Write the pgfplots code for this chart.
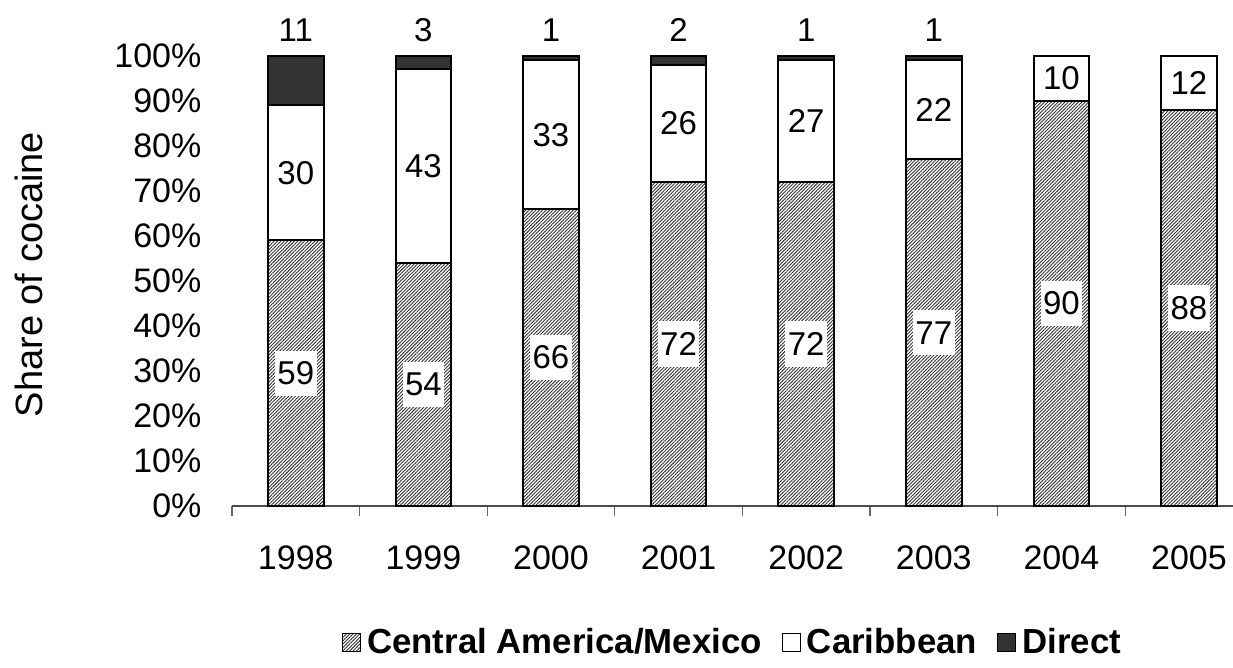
\documentclass[border=0pt]{standalone}
\usepackage{fontspec}
\setmainfont{Liberation Sans}
\usepackage{pgfplots}
\pgfplotsset{compat=1.18}
\usetikzlibrary{patterns.meta}
\begin{document}
\begin{tikzpicture}
\useasboundingbox (-116pt,-81pt) rectangle (500.5pt,253pt);
\begin{axis}[
  scale only axis, width=500.5pt, height=225pt,
  xmin=-0.5, xmax=7.345, ymin=0, ymax=100,
  clip=false,
  ybar stacked, bar width=0.436,
  axis x line*=bottom, axis y line*=left,
  y axis line style={draw=none},
  x axis line style={draw=black!70, line width=0.6pt},
  xtick={0,1,2,3,4,5,6,7},
  xticklabels={1998,1999,2000,2001,2002,2003,2004,2005},
  major x tick style={draw=none},
  minor xtick={-0.5,0.5,1.5,2.5,3.5,4.5,5.5,6.5},
  minor x tick style={draw=black!60, line width=0.6pt},
  minor tick length=5pt,
  tick align=outside,
  ytick={0,10,...,100},
  major y tick style={draw=none},
  yticklabel={\pgfmathprintnumber{\tick}\%},
  /pgf/number format/assume math mode=true,
  tick label style={font=\fontsize{17}{20}\selectfont},
  xticklabel shift=12pt,
  yticklabel shift=7.5pt,
  ylabel={Share of cocaine},
  ylabel style={font=\fontsize{19}{22}\selectfont, at={(axis description cs:0,0.5)}, anchor=center, yshift=101.5pt, xshift=3.25pt},
  legend style={at={(0.5,-0.304)}, anchor=center, draw=none, legend columns=-1,
    font=\fontsize{17.4}{20}\selectfont\bfseries,
    nodes={inner sep=1pt},
    /tikz/every odd column/.append style={column sep=2pt},
    /tikz/every even column/.append style={column sep=9pt}, inner sep=0pt},
  legend image code/.code={\draw[#1, line width=0.6pt] (0pt,-4.5pt) rectangle (9pt,4.5pt);},
  nodes near coords style={anchor=center, yshift=\myshift, fill=\myfill,
     inner xsep=1.25pt, inner ysep=5.5pt, font=\fontsize{16.5}{19}\selectfont, text=black},
]
\addplot[draw=black, line width=1pt,
  pattern={Lines[angle=45,distance=1.2pt,line width=0.45pt]}, pattern color=black!80,
  visualization depends on={value 0 \as \myshift},
  visualization depends on={value white \as \myfill},
  nodes near coords]
  coordinates {(0,59) (1,54) (2,66) (3,72) (4,72) (5,77) (6,90) (7,88)};
\addlegendentry{Central America/Mexico}
\addplot[draw=black, line width=1pt, fill=white,
  visualization depends on={value 0 \as \myshift},
  visualization depends on={value none \as \myfill},
  nodes near coords]
  coordinates {(0,30) (1,43) (2,33) (3,26) (4,27) (5,22) (6,10) (7,12)};
\addlegendentry{Caribbean}
\addplot[draw=black, line width=1pt, fill=black!80,
  visualization depends on={13+1.125*rawy \as \myshift},
  visualization depends on={value none \as \myfill},
  nodes near coords={\pgfmathfloatifflags{\pgfplotspointmeta}{0}{}{\pgfmathprintnumber{\pgfplotspointmeta}}}]
  coordinates {(0,11) (1,3) (2,1) (3,2) (4,1) (5,1) (6,0) (7,0)};
\addlegendentry{Direct}
\end{axis}
\end{tikzpicture}
\end{document}
